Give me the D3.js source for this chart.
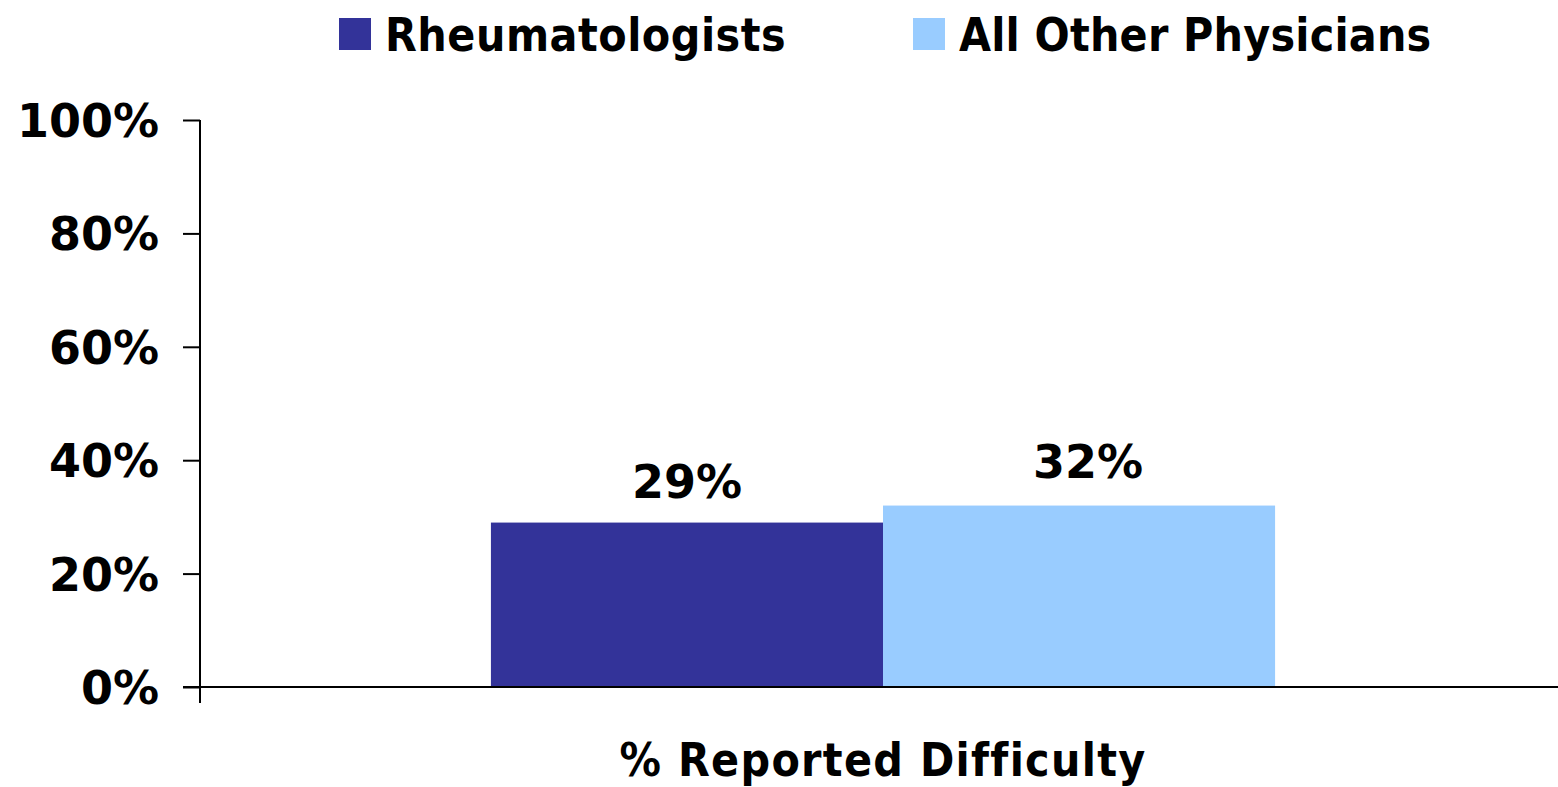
<!DOCTYPE html>
<html>
<head>
<meta charset="utf-8">
<script src="https://cdn.jsdelivr.net/npm/d3@7"></script>
<style>
  body { margin: 0; background: #fff; }
  text { font-family: "DejaVu Sans Condensed", "DejaVu Sans", sans-serif; font-weight: bold; }
  .num { font-family: "DejaVu Sans", sans-serif; }
</style>
</head>
<body>
<div id="chart"></div>
<script>
// data
const categories = ["% Reported Difficulty"];
const seriesNames = ["Rheumatologists", "All Other Physicians"];
const rheumatologists = [0.29];
const allOtherPhysicians = [0.32];
const yTicks = [0, 0.2, 0.4, 0.6, 0.8, 1.0];
const colors = ["#333399", "#99CCFF"];

const W = 1558, H = 787;
const margin = {top: 120, right: -8, bottom: 100, left: 200};
const width = W - margin.left - margin.right,
      height = H - margin.top - margin.bottom;

const svg = d3.select("#chart").append("svg")
  .attr("width", W).attr("height", H)
  .append("g")
  .attr("transform", `translate(${margin.left},${margin.top})`);

// scales
const x0 = d3.scaleBand().domain(categories).range([0, width]).paddingOuter(0.371).paddingInner(0);
const x1 = d3.scaleBand().domain(seriesNames).range([0, x0.bandwidth()]);
const y = d3.scaleLinear().domain([0, 1]).range([height, 0]);

const rows = categories.map((c, i) => ({cat: c, values: [rheumatologists[i], allOtherPhysicians[i]]}));

// y axis
const yAxis = svg.append("g")
  .call(d3.axisLeft(y).tickValues(yTicks).tickFormat(d3.format(".0%")).tickSize(17).tickPadding(24));
yAxis.select(".domain").remove();
yAxis.selectAll(".tick line").attr("stroke", "#000").attr("stroke-width", 2);
yAxis.selectAll(".tick text").attr("class", "num").attr("font-size", 46).attr("fill", "#000").attr("dy", "0.36em")
  .style("font-family", '"DejaVu Sans", sans-serif').style("font-weight", "bold");
svg.append("line")
  .attr("x1", 0).attr("x2", 0).attr("y1", y(1)).attr("y2", y(0) + 16)
  .attr("stroke", "#000").attr("stroke-width", 2);

// bars
const labelDx = [0, 9], labelGap = [25, 28];
const groups = svg.selectAll(".grp").data(rows).enter().append("g")
  .attr("transform", d => `translate(${x0(d.cat)},0)`);
groups.selectAll("rect").data(d => d.values.map((v, i) => ({name: seriesNames[i], v, i})))
  .enter().append("rect")
  .attr("x", d => x1(d.name))
  .attr("width", x1.bandwidth())
  .attr("y", d => y(d.v))
  .attr("height", d => y(0) - y(d.v))
  .attr("fill", d => colors[d.i]);
groups.selectAll(".lbl").data(d => d.values.map((v, i) => ({name: seriesNames[i], v, i})))
  .enter().append("text")
  .attr("class", "num")
  .attr("x", d => x1(d.name) + x1.bandwidth() / 2 + labelDx[d.i])
  .attr("y", d => y(d.v) - labelGap[d.i])
  .attr("text-anchor", "middle")
  .attr("font-size", 46)
  .text(d => d3.format(".0%")(d.v));

// x axis
const xAxis = svg.append("g").attr("transform", `translate(0,${height})`)
  .call(d3.axisBottom(x0).tickSize(0).tickPadding(56));
xAxis.select(".domain").remove();
xAxis.selectAll(".tick text").attr("font-size", 46).attr("fill", "#000")
  .style("font-family", '"DejaVu Sans Condensed", "DejaVu Sans", sans-serif').style("font-weight", "bold")
  .style("letter-spacing", "1.3px");
svg.append("line")
  .attr("x1", -17).attr("x2", W - margin.left).attr("y1", y(0)).attr("y2", y(0))
  .attr("stroke", "#000").attr("stroke-width", 2);

// legend
const legendX = [339, 913];
const legend = d3.select("svg").append("g");
seriesNames.forEach((name, i) => {
  legend.append("rect").attr("x", legendX[i]).attr("y", 18).attr("width", 32).attr("height", 32).attr("fill", colors[i]);
  legend.append("text").attr("x", legendX[i] + 46).attr("y", 51).attr("font-size", 46)
    .style("letter-spacing", i === 0 ? "0.5px" : "0.2px").text(name);
});
</script>
</body>
</html>
